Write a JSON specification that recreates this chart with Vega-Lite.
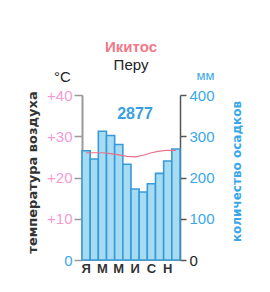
{
  "$schema": "https://vega.github.io/schema/vega-lite/v6.json",
  "autosize": "none",
  "width": 98,
  "height": 165,
  "padding": {"left": 82, "top": 95, "right": 90, "bottom": 32},
  "background": "white",
  "config": {"view": {"stroke": null}, "font": "Liberation Sans"},
  "title": {
    "text": "Икитос",
    "subtitle": "Перу",
    "anchor": "middle",
    "frame": "group",
    "font": "Liberation Sans",
    "fontSize": 15,
    "fontWeight": "bold",
    "color": "#f07a88",
    "subtitleFont": "Liberation Sans",
    "subtitleFontSize": 15,
    "subtitleColor": "#222222",
    "subtitlePadding": 3,
    "offset": -4
  },
  "data": {
    "values": [
      {"m": 1, "precip": 265, "temp": 26.0},
      {"m": 2, "precip": 245, "temp": 26.0},
      {"m": 3, "precip": 312, "temp": 26.0},
      {"m": 4, "precip": 302, "temp": 25.8},
      {"m": 5, "precip": 280, "temp": 25.5},
      {"m": 6, "precip": 232, "temp": 25.1},
      {"m": 7, "precip": 172, "temp": 25.0},
      {"m": 8, "precip": 165, "temp": 25.4},
      {"m": 9, "precip": 185, "temp": 26.0},
      {"m": 10, "precip": 210, "temp": 26.4},
      {"m": 11, "precip": 240, "temp": 26.6},
      {"m": 12, "precip": 269, "temp": 26.6}
    ]
  },
  "layer": [
    {
      "mark": {"type": "bar", "fill": "#a6dcf3", "stroke": "#3a9ad6", "strokeWidth": 1.6},
      "encoding": {
        "x": {
          "field": "m",
          "type": "ordinal",
          "scale": {"paddingInner": 0, "paddingOuter": 0},
          "axis": {
            "orient": "bottom",
            "labelAngle": 0,
            "labelExpr": "['Я','','М','','М','','И','','С','','Н',''][datum.value-1]",
            "labelFont": "Liberation Sans",
            "labelFontSize": 13,
            "labelFontWeight": "bold",
            "labelColor": "#333333",
            "labelPadding": 2,
            "labelDx": 2,
            "ticks": false,
            "domain": true,
            "domainColor": "#999999",
            "title": "температура воздуха",
            "titleAngle": 270,
            "titleX": -50,
            "titleY": -88,
            "titleAlign": "center",
            "titleBaseline": "middle",
            "titleFont": "DejaVu Sans",
            "titleFontSize": 13,
            "titleFontWeight": "bold",
            "titleColor": "#333333"
          }
        },
        "y": {
          "field": "precip",
          "type": "quantitative",
          "scale": {"domain": [0, 400], "nice": false},
          "axis": {
            "orient": "right",
            "values": [0, 100, 200, 300, 400],
            "grid": false,
            "domainColor": "#555555",
            "domainWidth": 1.5,
            "tickColor": "#555555",
            "tickSize": 6,
            "tickWidth": 1.5,
            "labelPadding": 3,
            "labelFont": "Liberation Sans",
            "labelFontSize": 15,
            "labelColor": {"condition": {"test": "datum.value === 0", "value": "#222222"}, "value": "#3aa8e8"},
            "title": "мм",
            "titleAngle": 0,
            "titleX": 25,
            "titleY": -20,
            "titleAlign": "center",
            "titleBaseline": "middle",
            "titleFont": "Liberation Sans",
            "titleFontSize": 13,
            "titleFontWeight": "normal",
            "titleColor": "#3aa8e8"
          }
        }
      }
    },
    {
      "mark": {"type": "line", "color": "#e8708a", "strokeWidth": 1.2},
      "encoding": {
        "x": {
          "field": "m",
          "type": "ordinal",
          "axis": {
            "orient": "top",
            "labels": false,
            "ticks": false,
            "domain": false,
            "title": "количество осадков",
            "titleAngle": 270,
            "titleX": 154,
            "titleY": 76,
            "titleAlign": "center",
            "titleBaseline": "middle",
            "titleFont": "DejaVu Sans",
            "titleFontSize": 12,
            "titleFontWeight": "bold",
            "titleColor": "#3aa8e8"
          }
        },
        "y": {
          "field": "temp",
          "type": "quantitative",
          "scale": {"domain": [0, 40], "nice": false},
          "axis": {
            "orient": "left",
            "values": [0, 10, 20, 30, 40],
            "grid": false,
            "domainColor": "#999999",
            "domainWidth": 2,
            "tickColor": "#999999",
            "tickSize": 8,
            "tickWidth": 1.5,
            "labelPadding": 2,
            "labelFont": "Liberation Sans",
            "labelFontSize": 15,
            "labelExpr": "datum.value > 0 ? '+' + datum.label : datum.label",
            "labelColor": {"condition": {"test": "datum.value === 0", "value": "#3aa8e8"}, "value": "#f29bd3"},
            "title": "°C",
            "titleAngle": 0,
            "titleX": -20,
            "titleY": -19,
            "titleAlign": "center",
            "titleBaseline": "middle",
            "titleFont": "Liberation Sans",
            "titleFontSize": 15,
            "titleFontWeight": "normal",
            "titleColor": "#222222"
          }
        }
      }
    },
    {
      "transform": [{"aggregate": [{"op": "sum", "field": "precip", "as": "total"}]}],
      "mark": {"type": "text", "font": "Liberation Sans", "fontSize": 16, "fontWeight": "bold", "color": "#3aa0e0", "dx": 4, "baseline": "middle"},
      "encoding": {
        "y": {"datum": 354, "type": "quantitative", "scale": {"domain": [0, 400], "nice": false}, "axis": null},
        "text": {"field": "total", "type": "quantitative", "format": "d"}
      }
    }
  ],
  "resolve": {"scale": {"y": "independent"}, "axis": {"x": "independent"}}
}
